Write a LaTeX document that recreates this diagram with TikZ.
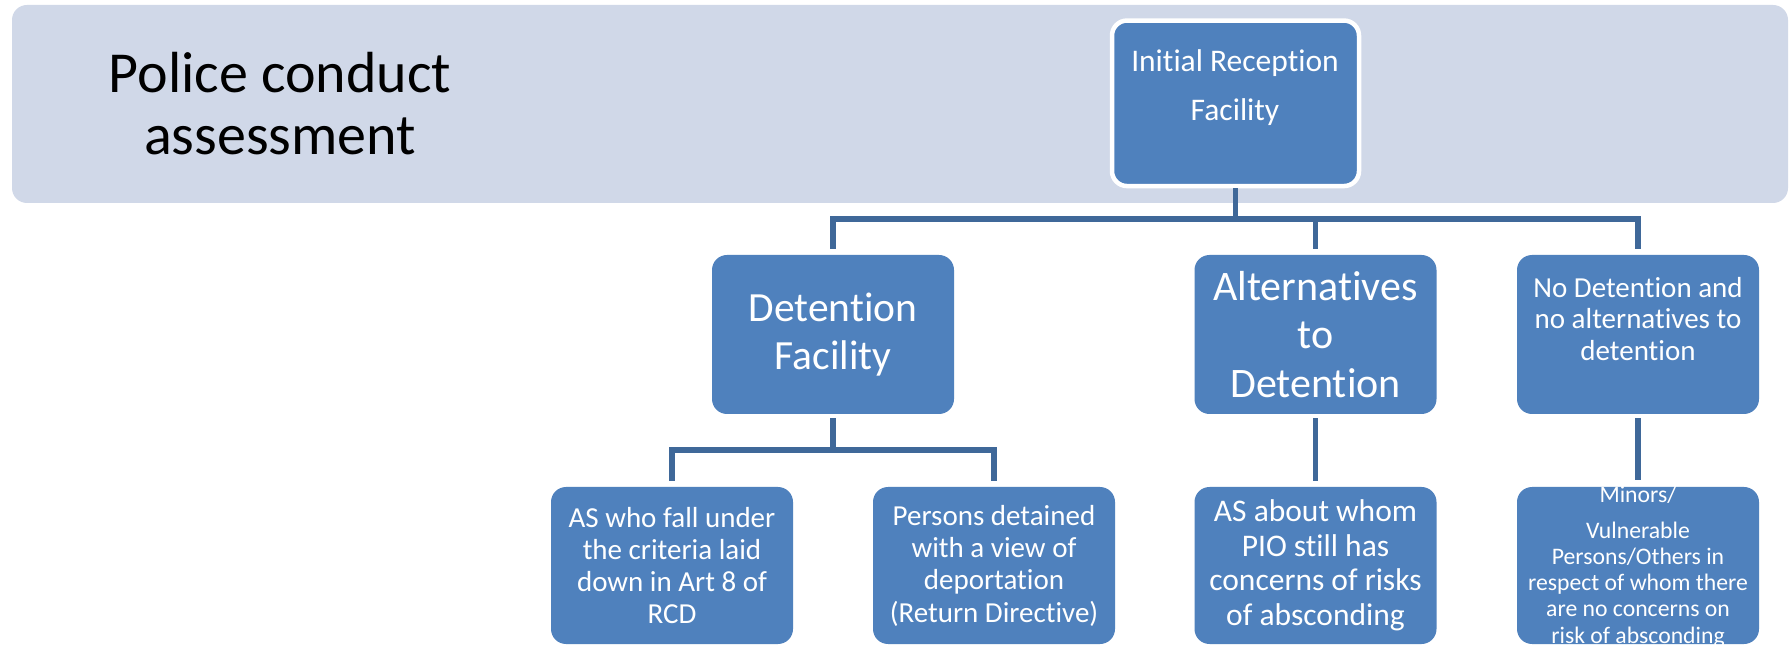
\documentclass[tikz,border=0pt]{standalone}
\usepackage{fontspec}
\setmainfont{Carlito}[Ligatures={NoCommon,NoContextual,NoRare}]
\definecolor{bandc}{RGB}{208,216,232}
\definecolor{boxc}{RGB}{79,129,189}
\definecolor{linec}{RGB}{63,104,153}
\begin{document}
\begin{tikzpicture}[x=0.5pt,y=-0.5pt,
  box/.style={rectangle, rounded corners=7.5pt, fill=boxc, text=white, align=center, inner sep=1pt, minimum width=121pt},
  lvtwo/.style={box, minimum height=79.5pt},
  lvthree/.style={box, minimum height=78.5pt},
  conn/.style={draw=linec, line width=2.75pt},
  txt/.style={text=white, align=center, inner sep=0pt}]
\useasboundingbox (0,0) rectangle (1789,646);
\clip (0,0) rectangle (1789,646);
\fill[white] (0,0) rectangle (1789,646);
\fill[bandc, rounded corners=7.5pt] (12,5) rectangle (1788,203);
\node[align=center, inner sep=0pt, font=\fontsize{29pt}{31pt}\selectfont] (title) at (280,104) {Police conduct\\assessment};
% top node
\node[box, minimum width=123.5pt, minimum height=82.75pt, draw=white, line width=2.25pt] (irf) at (1235.5,103.3) {};
\node[txt, font=\fontsize{15.75pt}{24.5pt}\selectfont] (irft) at (1235,88) {Initial Reception\\Facility};
% level 2
\node[lvtwo, font=\fontsize{20.75pt}{24pt}\selectfont] (df) at (833,334.5) {Detention\\Facility};
\node[lvtwo, font=\fontsize{21pt}{24.25pt}\selectfont] (alt) at (1315.5,334.5) {Alternatives\\to\\Detention};
\node[lvtwo, font=\fontsize{14.5pt}{15.75pt}\selectfont] (nod) at (1638,334.5) {No Detention and\\no alternatives to\\detention\\\mbox{}};
% level 3
\node[lvthree, font=\fontsize{14.5pt}{16.15pt}\selectfont] (asw) at (672,565.5) {AS who fall under\\the criteria laid\\down in Art 8 of\\RCD};
\node[lvthree, font=\fontsize{14.5pt}{16.15pt}\selectfont] (pdv) at (994,565.5) {Persons detained\\with a view of\\deportation\\(Return Directive)};
\node[lvthree, font=\fontsize{15.75pt}{17.25pt}\selectfont] (asa) at (1315.5,565.5) {AS about whom\\PIO still has\\concerns of risks\\of absconding};
\node[lvthree] (min) at (1638,565.5) {};
\node[txt, font=\fontsize{11.85pt}{13.15pt}\selectfont] (mint) at (1638,566.5) {Minors/\\[4.85pt]Vulnerable\\Persons/Others in\\respect of whom there\\are no concerns on\\risk of absconding};
% connectors
\coordinate (barA) at (0,219);
\coordinate (barB) at (0,450);
\draw[conn, shorten >=3pt] (irf.south) |- (df.north |- barA) -- (df.north);
\draw[conn, shorten >=3pt] (irf.south) |- (alt.north |- barA) -- (alt.north);
\draw[conn, shorten >=3pt] (irf.south) |- (nod.north |- barA) -- (nod.north);
\draw[conn, shorten <=2pt, shorten >=3pt] (df.south) |- (asw.north |- barB) -- (asw.north);
\draw[conn, shorten <=2pt, shorten >=3pt] (df.south) |- (pdv.north |- barB) -- (pdv.north);
\draw[conn, shorten <=2pt, shorten >=3pt] (alt.south) -- (asa.north);
\draw[conn, shorten <=2pt, shorten >=3.5pt] (nod.south) -- (min.north);
\end{tikzpicture}
\end{document}
